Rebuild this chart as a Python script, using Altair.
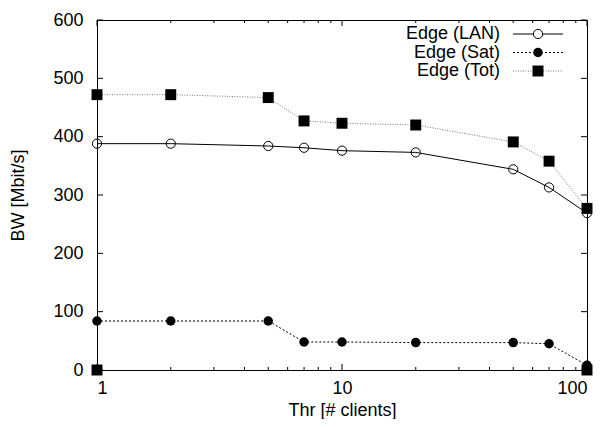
import altair as alt
import pandas as pd

# ---- data ----
clients = [1, 2, 5, 7, 10, 20, 50, 70, 100]
bw_lan = [388, 388, 384, 381, 376, 373, 344, 313, 269]
bw_sat = [84, 84, 84, 48, 48, 47, 47, 45, 8]
bw_tot = [472, 472, 467, 427, 423, 420, 391, 358, 277]
extra_clients = [1, 100]          # stray square points on the x axis
extra_bw = [0, 0]

legend_names = ["Edge (LAN)", "Edge (Sat)", "Edge (Tot)"]
x_major = [1, 10, 100]
x_minor = [2, 3, 4, 5, 6, 7, 8, 9, 20, 30, 40, 50, 60, 70, 80, 90]
y_major = [0, 100, 200, 300, 400, 500, 600]

W, H = 490, 350
FONT = "Liberation Sans"

df = pd.DataFrame({"x": clients, "lan": bw_lan, "sat": bw_sat, "tot": bw_tot})
extra = pd.DataFrame({"x": extra_clients, "y": extra_bw})

xscale = alt.Scale(type="log", domain=[1, 100], nice=False)
yscale = alt.Scale(domain=[0, 600], nice=False, zero=False)

xax = alt.Axis(values=x_major, format="d", grid=False, domain=False, ticks=False,
               tickSize=0, labelPadding=9, labelFontSize=18, titleFontSize=18,
               labelFont=FONT, titleFont=FONT, titleFontWeight="normal",
               titlePadding=4, labelColor="black", titleColor="black")
yax = alt.Axis(values=y_major, grid=False, domain=False, ticks=False, tickSize=0,
               labelPadding=14, labelFontSize=18, titleFontSize=18, labelFont=FONT,
               titleFont=FONT, titleFontWeight="normal", titlePadding=25,
               labelColor="black", titleColor="black")

XT = "Thr [# clients]"
YT = "BW [Mbit/s]"

def X(field):
    return alt.X(field, scale=xscale, axis=xax, title=XT)

def Y(field):
    return alt.Y(field, scale=yscale, axis=yax, title=YT)

base = alt.Chart(df)

lan_line = base.mark_line(color="black", strokeWidth=1).encode(x=X("x:Q"), y=Y("lan:Q"))
sat_line = base.mark_line(color="black", strokeWidth=1, strokeDash=[2, 2]).encode(
    x=X("x:Q"), y=Y("sat:Q"))
tot_line = base.mark_line(color="#777777", strokeWidth=1, strokeDash=[1, 1.5]).encode(
    x=X("x:Q"), y=Y("tot:Q"))

lan_pts = base.mark_point(shape="circle", filled=False, color="black", size=85,
                          strokeWidth=1, opacity=1).encode(x=X("x:Q"), y=Y("lan:Q"))
sat_pts = base.mark_point(shape="circle", filled=True, color="black", size=90,
                          opacity=1).encode(x=X("x:Q"), y=Y("sat:Q"))
tot_pts = base.mark_point(shape="square", filled=True, color="black", size=120,
                          opacity=1).encode(x=X("x:Q"), y=Y("tot:Q"))
extra_pts = alt.Chart(extra).mark_point(shape="square", filled=True, color="black",
                                        size=120, opacity=1).encode(
    x=X("x:Q"), y=Y("y:Q"))

# ---- inward ticks (gnuplot style) ----
ymaj = pd.DataFrame({"v": y_major})
xmaj = pd.DataFrame({"v": x_major})
xmin = pd.DataFrame({"v": x_minor})
ticks = [
    alt.Chart(ymaj).mark_rule(color="black", strokeWidth=1).encode(
        y=Y("v:Q"), x=alt.value(0), x2=alt.value(6)),
    alt.Chart(ymaj).mark_rule(color="black", strokeWidth=1).encode(
        y=Y("v:Q"), x=alt.value(W - 6), x2=alt.value(W)),
    alt.Chart(xmaj).mark_rule(color="black", strokeWidth=1).encode(
        x=X("v:Q"), y=alt.value(H), y2=alt.value(H - 6)),
    alt.Chart(xmaj).mark_rule(color="black", strokeWidth=1).encode(
        x=X("v:Q"), y=alt.value(0), y2=alt.value(6)),
    alt.Chart(xmin).mark_rule(color="black", strokeWidth=1).encode(
        x=X("v:Q"), y=alt.value(H), y2=alt.value(H - 3)),
    alt.Chart(xmin).mark_rule(color="black", strokeWidth=1).encode(
        x=X("v:Q"), y=alt.value(0), y2=alt.value(3)),
]

# ---- legend (top right, gnuplot style) ----
leg_y = [14, 32.5, 51]
leg_text_x, leg_l, leg_r, leg_m = 403, 416, 466, 441
legend = []
styles = [("black", None), ("black", [2, 2]), ("#777777", [1, 1.5])]
for i, name in enumerate(legend_names):
    ld = pd.DataFrame({"name": [name]})
    c = alt.Chart(ld)
    legend.append(c.mark_text(align="right", baseline="middle", fontSize=18,
                              font=FONT, color="black").encode(
        text="name:N", x=alt.value(leg_text_x), y=alt.value(leg_y[i])))
    color, dash = styles[i]
    kw = {"strokeDash": dash} if dash else {}
    legend.append(c.mark_rule(color=color, strokeWidth=1, **kw).encode(
        x=alt.value(leg_l), x2=alt.value(leg_r), y=alt.value(leg_y[i])))
legend.append(alt.Chart(pd.DataFrame({"n": [legend_names[0]]})).mark_point(
    shape="circle", filled=True, fill="white", stroke="black", strokeWidth=1,
    size=85, opacity=1).encode(x=alt.value(leg_m), y=alt.value(leg_y[0])))
legend.append(alt.Chart(pd.DataFrame({"n": [legend_names[1]]})).mark_point(
    shape="circle", filled=True, color="black", size=90, opacity=1).encode(
    x=alt.value(leg_m), y=alt.value(leg_y[1])))
legend.append(alt.Chart(pd.DataFrame({"n": [legend_names[2]]})).mark_point(
    shape="square", filled=True, color="black", size=120, opacity=1).encode(
    x=alt.value(leg_m), y=alt.value(leg_y[2])))

chart = alt.layer(
    lan_line, sat_line, tot_line, lan_pts, sat_pts, tot_pts, extra_pts,
    *ticks, *legend
).properties(
    width=W, height=H,
    autosize=alt.AutoSizeParams(type="none"),
    padding={"left": 89, "top": 12, "right": 9, "bottom": 49},
    background="white",
).configure_view(stroke="black", strokeWidth=1)

chart.save("out.html", embed_options={"renderer": "svg", "actions": False})
